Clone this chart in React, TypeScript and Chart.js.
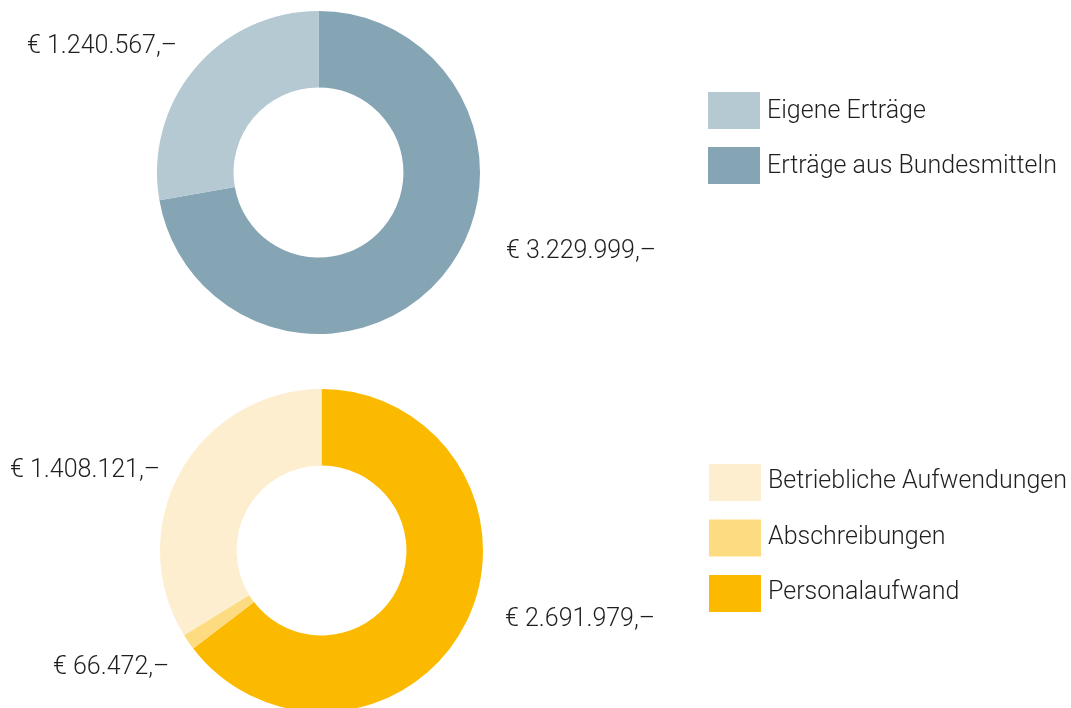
import React, { useEffect, useRef } from "react";
import { Chart, ArcElement, DoughnutController } from "chart.js";

Chart.register(ArcElement, DoughnutController);

// Data (clockwise order from 12 o'clock)
const incomeLabels = ["Erträge aus Bundesmitteln", "Eigene Erträge"];
const incomeValues = [3229999, 1240567];
const incomeColors = ["#86a5b4", "#b5c9d2"];

const expenseLabels = ["Personalaufwand", "Abschreibungen", "Betriebliche Aufwendungen"];
const expenseValues = [2691979, 66472, 1408121];
const expenseColors = ["#fbba00", "#fddb80", "#fdeecf"];

const fmt = (v: number) =>
  "€ " + String(v).replace(/\B(?=(\d{3})+(?!\d))/g, ".") + ",–";

const FONT = "Roboto, 'Noto Sans', sans-serif";
const TEXT_COLOR = "#1f1f1f";

const annotatePlugin = {
  id: "annotate",
  afterDraw(chart: any, _args: any, opts: any) {
    const ctx = chart.ctx;
    const ds = chart.data.datasets[0];
    const labels = chart.data.labels as string[];
    ctx.save();
    // value labels
    ctx.fillStyle = TEXT_COLOR;
    ctx.font = `300 25px ${FONT}`;
    ctx.textAlign = "left";
    ctx.textBaseline = "alphabetic";
    (ds.data as number[]).forEach((v, i) => {
      const p = opts.valuePos[i];
      if (p) ctx.fillText(fmt(v), p[0], p[1]);
    });
    // legend (reverse order)
    const lg = opts.legend;
    const n = labels.length;
    ctx.font = `300 25px ${FONT}`;
    ctx.textBaseline = "alphabetic";
    for (let k = 0; k < n; k++) {
      const i = n - 1 - k;
      const y = lg.y + k * lg.step;
      ctx.fillStyle = ds.backgroundColor[i];
      ctx.fillRect(lg.x, y, lg.boxW, lg.boxH);
      ctx.fillStyle = TEXT_COLOR;
      ctx.fillText(labels[i], lg.x + lg.boxW + 7, y + lg.textDy);
    }
    ctx.restore();
  },
};

type DonutProps = {
  labels: string[];
  values: number[];
  colors: string[];
  padding: { left: number; right: number; top: number; bottom: number };
  valuePos: number[][];
  legend: { x: number; y: number; step: number; boxW: number; boxH: number; textDy: number };
};

function Donut(props: DonutProps) {
  const ref = useRef<HTMLCanvasElement | null>(null);
  useEffect(() => {
    if (!ref.current) return;
    const chart = new Chart(ref.current, {
      type: "doughnut",
      data: {
        labels: props.labels,
        datasets: [
          {
            data: props.values,
            backgroundColor: props.colors,
            borderWidth: 0,
            hoverOffset: 0,
            clip: false as any,
          },
        ],
      },
      options: {
        responsive: false,
        animation: false,
        cutout: "52.6%",
        layout: { padding: props.padding },
        events: [],
        plugins: {
          legend: { display: false },
          tooltip: { enabled: false },
          annotate: { valuePos: props.valuePos, legend: props.legend },
        } as any,
      },
      plugins: [annotatePlugin],
    });
    return () => chart.destroy();
  }, []);
  return (
    <canvas
      ref={ref}
      width={1071}
      height={708}
      style={{ position: "absolute", left: 0, top: 0, width: 1071, height: 708, display: "block" }}
    />
  );
}

export default function App() {
  return (
    <div
      style={{
        position: "fixed",
        left: 0,
        top: 0,
        width: 1071,
        height: 708,
        background: "#ffffff",
        overflow: "hidden",
      }}
    >
      <Donut
        labels={incomeLabels}
        values={incomeValues}
        colors={incomeColors}
        padding={{ left: 157, right: 591, top: 11, bottom: 374 }}
        valuePos={[
          [506, 258],
          [27, 53],
        ]}
        legend={{ x: 708, y: 92, step: 55, boxW: 52, boxH: 37, textDy: 26 }}
      />
      <Donut
        labels={expenseLabels}
        values={expenseValues}
        colors={expenseColors}
        padding={{ left: 160, right: 588, top: 389, bottom: -4 }}
        valuePos={[
          [505, 626],
          [53, 674],
          [10, 477],
        ]}
        legend={{ x: 709, y: 464, step: 55.5, boxW: 52, boxH: 37, textDy: 24 }}
      />
    </div>
  );
}
